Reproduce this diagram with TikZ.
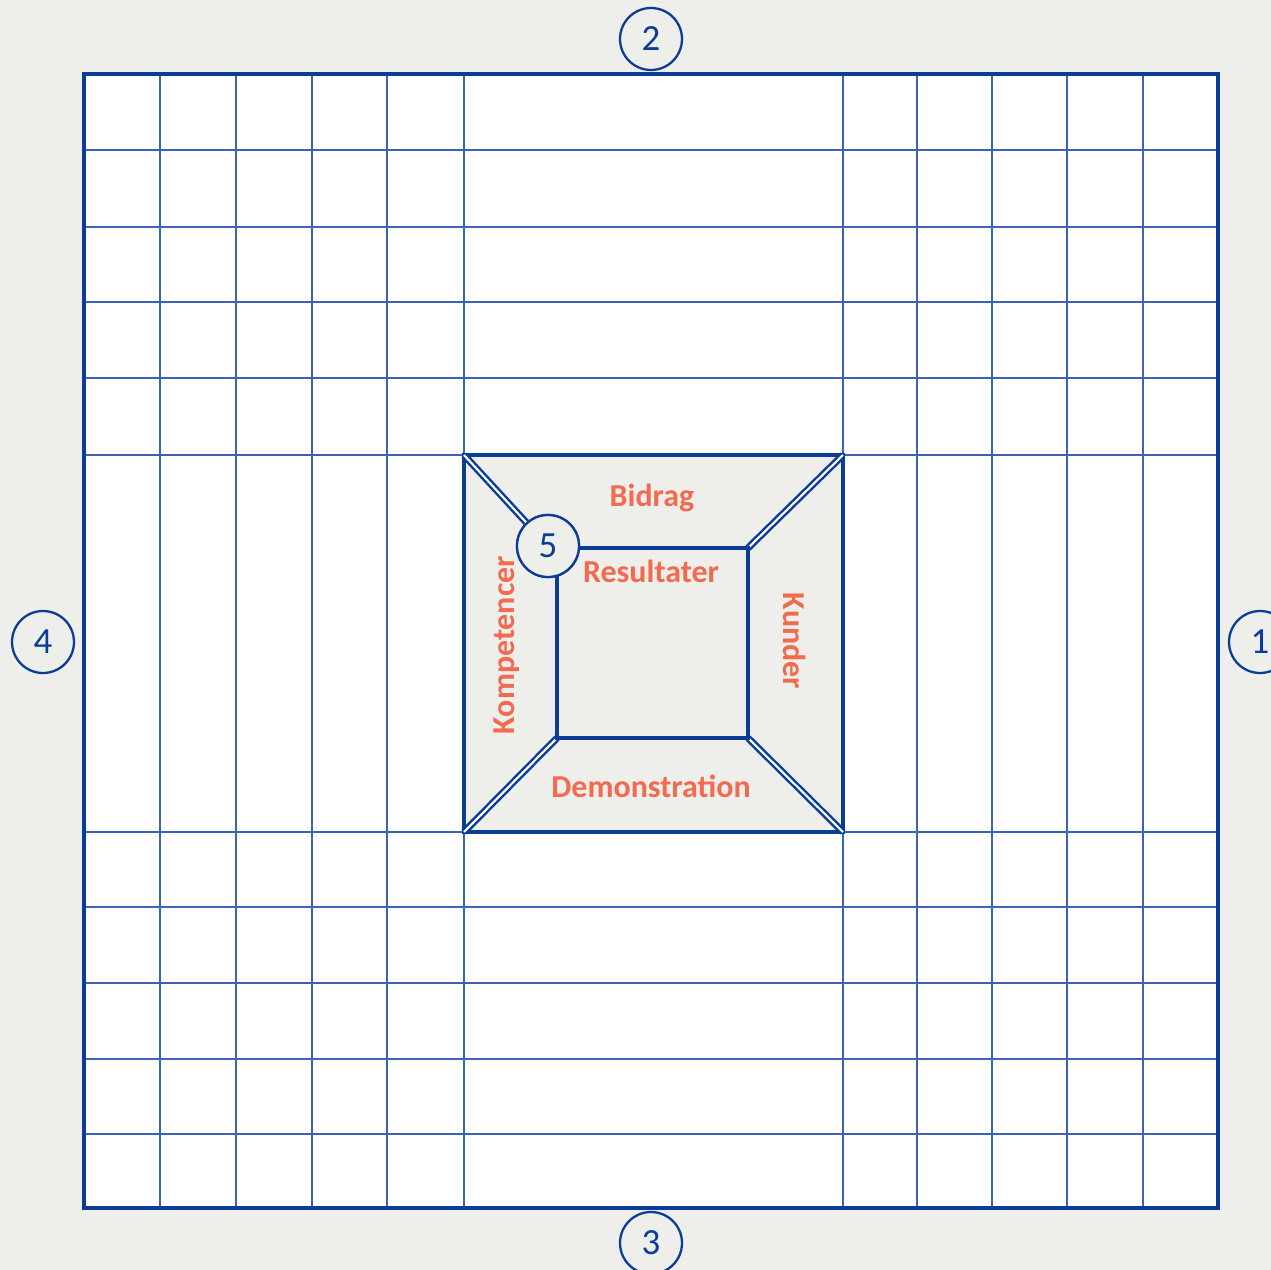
\documentclass[tikz,border=0pt]{standalone}
\usepackage{fontspec}
\setmainfont{Carlito}
\usetikzlibrary{positioning}
\definecolor{paper}{HTML}{EEEEEA}
\definecolor{navy}{HTML}{0B3C96}
\definecolor{gridblue}{HTML}{3C64B2}
\definecolor{coral}{HTML}{F26A4F}
\tikzset{gridline/.style={draw=gridblue,line width=.85pt},
  frame/.style={draw=navy,line width=2pt},
  bevel/.style={draw=navy,line width=1.4pt,double=white,double distance=1.2pt},
  marker/.style={circle,draw=navy,line width=1.3pt,fill=paper,text=navy,
    minimum size=1.24cm,inner sep=0pt,font=\fontsize{21}{24}\selectfont},
  face/.style={text=coral,inner sep=0pt,font=\fontsize{18.2}{20}\selectfont\bfseries}}

\begin{document}
\begin{tikzpicture}[x=0.02cm,y=-0.02cm]
\fill[paper](0,0)rectangle(1271,1270);
\useasboundingbox(0,0)rectangle(1271,1270);
% grid
\fill[white](84,74)rectangle(1218,1208);
\foreach \x in {160,236,312,387,464,843,917,992,1067,1143}
  \draw[gridline](\x,74)--(\x,1208);
\foreach \y in {150,227,302,378,455,832,907,983,1059,1134}
  \draw[gridline](84,\y)--(1218,\y);
\draw[frame](84,74)rectangle(1218,1208);
% central frame
\coordinate(otl)at(464,455);\coordinate(otr)at(843,455);
\coordinate(obl)at(464,832);\coordinate(obr)at(843,832);
\coordinate(itl)at(557,548);\coordinate(itr)at(748,548);
\coordinate(ibl)at(557,738);\coordinate(ibr)at(748,738);
\filldraw[fill=paper,frame,line width=2.3pt](otl)rectangle(obr);
\node[marker](n5)at(548,546){5};
\draw[bevel](otl)--(n5);
\draw[bevel](otr)--(itr);
\draw[bevel](obl)--(ibl);
\draw[bevel](obr)--(ibr);
\draw[frame](itl)rectangle(ibr);
\node[marker]at(n5){5};
\node[face](bidrag)at(652,498){Bidrag};
\node[face](resultater)at(651,571){Resultater};
\node[face,rotate=90](kompetencer)at(507,645){Kompetencer};
\node[face,rotate=-90](kunder)at(795,641){Kunder};
\node[face](demo)at(651,786){Demonstration};
% numbers
\node[marker](n1)at(1260,642){1};
\node[marker](n2)at(651,39){2};
\node[marker](n3)at(651,1243){3};
\node[marker](n4)at(43,642){4};
\end{tikzpicture}
\end{document}
